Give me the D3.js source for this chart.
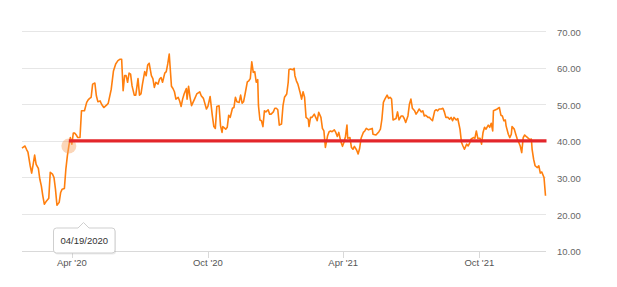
<!DOCTYPE html>
<html>
<head>
<meta charset="utf-8">
<script src="https://cdn.jsdelivr.net/npm/d3@7"></script>
<style>
  html, body { margin: 0; padding: 0; background: #fff; }
  svg { display: block; font-family: "Liberation Sans", Arial, sans-serif; }
</style>
</head>
<body>
<svg id="chart" width="617" height="287"></svg>
<script>
// ---- data ----
const dates = [
"2020-01-25","2020-01-29","2020-01-31","2020-02-02","2020-02-05","2020-02-07","2020-02-09","2020-02-11","2020-02-13","2020-02-16",
"2020-02-18","2020-02-20","2020-02-22","2020-02-24","2020-02-27","2020-03-01","2020-03-03","2020-03-06","2020-03-08","2020-03-10",
"2020-03-12","2020-03-15","2020-03-17","2020-03-19","2020-03-22","2020-03-24","2020-03-26","2020-03-28","2020-03-30","2020-04-01",
"2020-04-03","2020-04-05","2020-04-07","2020-04-09","2020-04-12","2020-04-14","2020-04-16","2020-04-18","2020-04-21","2020-04-23",
"2020-04-25","2020-04-27","2020-04-29","2020-05-02","2020-05-04","2020-05-06","2020-05-09","2020-05-11","2020-05-14","2020-05-18",
"2020-05-20","2020-05-24","2020-05-27","2020-05-30","2020-06-02","2020-06-05","2020-06-07","2020-06-09","2020-06-11","2020-06-13",
"2020-06-15","2020-06-17","2020-06-19","2020-06-21","2020-06-24","2020-06-26","2020-06-29","2020-07-01","2020-07-03","2020-07-05",
"2020-07-08","2020-07-10","2020-07-12","2020-07-14","2020-07-17","2020-07-19","2020-07-21","2020-07-23","2020-07-26","2020-07-28",
"2020-07-30","2020-08-01","2020-08-04","2020-08-06","2020-08-08","2020-08-10","2020-08-13","2020-08-15","2020-08-17","2020-08-19",
"2020-08-22","2020-08-24","2020-08-26","2020-08-28","2020-08-30","2020-09-02","2020-09-03","2020-09-05","2020-09-07","2020-09-09",
"2020-09-13","2020-09-16","2020-09-20","2020-09-22","2020-09-25","2020-09-29","2020-10-01","2020-10-04","2020-10-07","2020-10-09",
"2020-10-11","2020-10-13","2020-10-16","2020-10-18","2020-10-20","2020-10-21","2020-10-25","2020-10-27","2020-10-29","2020-10-31",
"2020-11-03","2020-11-05","2020-11-07","2020-11-09","2020-11-12","2020-11-14","2020-11-16","2020-11-18","2020-11-20","2020-11-23",
"2020-11-25","2020-11-27","2020-11-29","2020-12-01","2020-12-03","2020-12-05","2020-12-07","2020-12-08","2020-12-10","2020-12-12",
"2020-12-14","2020-12-16","2020-12-18","2020-12-21","2020-12-23","2020-12-25","2020-12-28","2020-12-30","2021-01-01","2021-01-03",
"2021-01-05","2021-01-08","2021-01-10","2021-01-12","2021-01-15","2021-01-17","2021-01-18","2021-01-20","2021-01-23","2021-01-25",
"2021-01-26","2021-01-28","2021-01-30","2021-02-02","2021-02-04","2021-02-06","2021-02-08","2021-02-10","2021-02-13","2021-02-14",
"2021-02-16","2021-02-18","2021-02-21","2021-02-23","2021-02-25","2021-02-27","2021-03-02","2021-03-04","2021-03-06","2021-03-08",
"2021-03-11","2021-03-13","2021-03-15","2021-03-17","2021-03-20","2021-03-22","2021-03-24","2021-03-26","2021-03-29","2021-03-31",
"2021-04-02","2021-04-04","2021-04-06","2021-04-07","2021-04-10","2021-04-12","2021-04-14","2021-04-16","2021-04-19","2021-04-21",
"2021-04-23","2021-04-25","2021-04-28","2021-04-30","2021-05-02","2021-05-05","2021-05-10","2021-05-11","2021-05-15","2021-05-19",
"2021-05-21","2021-05-23","2021-05-25","2021-05-27","2021-05-30","2021-06-01","2021-06-03","2021-06-05","2021-06-07","2021-06-09",
"2021-06-11","2021-06-13","2021-06-15","2021-06-18","2021-06-20","2021-06-22","2021-06-24","2021-06-27","2021-06-29","2021-07-01",
"2021-07-03","2021-07-06","2021-07-08","2021-07-10","2021-07-12","2021-07-15","2021-07-17","2021-07-19","2021-07-21","2021-07-24",
"2021-07-26","2021-07-28","2021-07-30","2021-08-02","2021-08-04","2021-08-06","2021-08-08","2021-08-11","2021-08-13","2021-08-15",
"2021-08-17","2021-08-20","2021-08-22","2021-08-24","2021-08-26","2021-08-28","2021-08-31","2021-09-02","2021-09-05","2021-09-07",
"2021-09-09","2021-09-11","2021-09-14","2021-09-16","2021-09-18","2021-09-20","2021-09-23","2021-09-25","2021-09-27","2021-09-29",
"2021-10-02","2021-10-04","2021-10-06","2021-10-08","2021-10-10","2021-10-13","2021-10-15","2021-10-17","2021-10-19","2021-10-20",
"2021-10-23","2021-10-25","2021-10-28","2021-10-30","2021-11-01","2021-11-03","2021-11-05","2021-11-06","2021-11-09","2021-11-11",
"2021-11-13","2021-11-14","2021-11-17","2021-11-19","2021-11-21","2021-11-23","2021-11-25","2021-11-27","2021-11-29","2021-12-01",
"2021-12-03","2021-12-06","2021-12-08","2021-12-10","2021-12-11","2021-12-13","2021-12-15","2021-12-18","2021-12-20","2021-12-22",
"2021-12-24","2021-12-27","2021-12-29"
];
const values = [
38.0,38.6,37.7,36.9,33.2,31.2,33.6,36.1,33.6,32.5,
29.5,27.7,25.0,22.7,23.6,24.3,31.4,30.9,30.0,26.8,
22.4,23.2,25.9,26.8,27.0,32.3,35.9,38.6,40.9,39.1,
42.1,42.1,41.6,40.9,40.9,48.2,48.2,48.2,50.5,51.2,
51.6,51.9,55.5,55.8,52.3,50.7,50.9,50.0,49.1,49.8,
50.3,54.1,59.1,61.0,61.9,62.3,62.3,53.7,57.8,57.8,
56.0,58.5,58.2,55.0,52.5,52.5,57.0,52.5,52.8,55.5,
58.9,57.8,60.7,61.2,57.8,57.0,54.6,56.0,55.5,56.9,
57.3,56.0,58.5,58.9,61.0,63.7,54.9,54.3,53.4,51.4,
51.9,50.9,49.4,51.4,52.8,54.3,51.4,54.9,51.9,49.6,
51.4,52.8,53.4,52.3,51.6,48.7,49.4,52.1,46.8,43.9,
43.4,49.4,49.6,44.1,42.3,43.9,43.2,43.7,47.0,46.4,
48.9,49.1,51.9,50.7,50.5,52.5,50.3,50.7,52.8,56.1,
56.4,57.0,61.6,58.7,58.9,56.0,56.7,49.6,45.7,45.5,
43.9,48.2,47.9,48.5,47.3,47.3,47.9,48.9,48.9,48.5,
44.3,44.6,49.6,51.9,52.8,56.0,59.4,59.6,59.4,59.8,
57.8,56.4,55.5,53.2,51.4,53.4,51.9,46.4,45.9,43.9,
46.4,46.4,47.3,46.4,45.5,47.8,46.4,43.4,42.7,38.2,
41.4,42.5,42.7,42.5,43.0,42.3,41.2,42.3,39.6,38.5,
39.6,41.2,44.3,40.7,40.9,38.2,37.7,38.5,37.5,36.4,
37.9,40.7,42.3,42.7,43.4,43.0,43.4,41.8,41.6,42.5,
43.2,45.9,50.5,51.4,52.5,51.6,51.9,51.4,45.7,45.9,
46.1,47.9,45.7,46.8,46.8,46.1,45.0,46.8,50.0,51.4,
48.9,48.2,47.3,47.9,48.7,47.9,48.2,46.8,47.0,46.4,
46.4,45.9,45.5,48.2,48.5,48.2,48.7,48.7,48.9,47.9,
46.4,46.4,45.9,46.4,45.5,46.4,45.7,46.1,43.2,39.6,
38.6,37.7,39.1,38.6,39.4,40.5,40.9,40.7,42.7,40.7,
40.7,39.1,42.3,43.7,43.2,44.3,43.7,44.8,42.7,48.2,
48.5,48.7,49.1,47.0,46.8,45.5,45.7,44.1,41.8,40.9,
41.8,43.9,43.2,41.8,40.5,39.6,38.6,36.8,40.9,41.6,
41.2,40.7,40.3,40.5,37.7,35.0,33.2,32.7,33.2,31.2,
31.5,30.0,25.0
];
const yTicks = [10, 20, 30, 40, 50, 60, 70];
const xTickDates = ["2020-04-01", "2020-10-01", "2021-04-01", "2021-10-01"];
const xTickLabels = ["Apr '20", "Oct '20", "Apr '21", "Oct '21"];
const refValue = 40;
const refStartDate = "2020-03-28";
const tooltipDate = "2020-04-19";
const tooltipLabel = "04/19/2020";

// ---- setup ----
const parse = d3.utcParse("%Y-%m-%d");
const data = dates.map((d, i) => ({ date: parse(d), value: values[i] }));

const svg = d3.select("#chart");
const plotLeft = 22, plotRight = 545.5, plotTop = 31, plotBottom = 250.7;

const x = d3.scaleUtc()
  .domain(d3.extent(data, d => d.date))
  .range([plotLeft, plotRight]);
const y = d3.scaleLinear().domain([10, 70]).range([plotBottom, plotTop]);

// gridlines
svg.append("g").selectAll("line").data(yTicks).join("line")
  .attr("x1", plotLeft).attr("x2", 546)
  .attr("y1", d => Math.round(y(d)) + 0.5).attr("y2", d => Math.round(y(d)) + 0.5)
  .attr("stroke", d => d === 10 ? "#d9d9d9" : "#e6e6e6")
  .attr("stroke-width", 1);

// y labels
svg.append("g").selectAll("text").data(yTicks).join("text")
  .attr("x", 557).attr("y", d => y(d) + 4.5)
  .attr("font-size", 9.5).attr("fill", "#666")
  .text(d => d3.format(".2f")(d));

// x axis ticks
const xt = xTickDates.map((d, i) => ({ date: parse(d), label: xTickLabels[i] }));
svg.append("g").selectAll("line").data(xt).join("line")
  .attr("x1", d => Math.round(x(d.date)) + 0.5).attr("x2", d => Math.round(x(d.date)) + 0.5)
  .attr("y1", Math.round(plotBottom)).attr("y2", Math.round(plotBottom) + 7)
  .attr("stroke", "#d9d9d9");
svg.append("g").selectAll("text").data(xt).join("text")
  .attr("x", d => x(d.date)).attr("y", 266)
  .attr("text-anchor", "middle")
  .attr("font-size", 9.5).attr("fill", "#555")
  .text(d => d.label);

// series line
const line = d3.line().x(d => x(d.date)).y(d => y(d.value)).curve(d3.curveLinear);
svg.append("path").datum(data)
  .attr("d", line)
  .attr("fill", "none")
  .attr("stroke", "#ff7f0e")
  .attr("stroke-width", 1.6)
  .attr("stroke-linejoin", "round");

// highlight marker
const refStart = data.find(d => +d.date === +parse(refStartDate));
svg.append("circle")
  .attr("cx", x(refStart.date)).attr("cy", y(refStart.value))
  .attr("r", 7.5)
  .attr("fill", "#f7a463").attr("fill-opacity", 0.45);

// reference line
svg.append("line")
  .attr("x1", x(refStart.date)).attr("x2", 546.5)
  .attr("y1", y(refValue)).attr("y2", y(refValue))
  .attr("stroke", "#e3262b").attr("stroke-width", 3.2);

// tooltip
const tipX = x(parse(tooltipDate)) - 1.7;
const tg = svg.append("g");
const bx = tipX - 30, by = 228, bw = 61.5, bh = 25;
tg.append("rect")
  .attr("x", bx + 1).attr("y", by + 1.5).attr("width", bw).attr("height", bh)
  .attr("rx", 3).attr("fill", "#000").attr("fill-opacity", 0.08);
tg.append("path")
  .attr("d", `M${bx + 3},${by} L${tipX - 5.5},${by} L${tipX},${by - 5.5} L${tipX + 5.5},${by} L${bx + bw - 3},${by} Q${bx + bw},${by} ${bx + bw},${by + 3} L${bx + bw},${by + bh - 3} Q${bx + bw},${by + bh} ${bx + bw - 3},${by + bh} L${bx + 3},${by + bh} Q${bx},${by + bh} ${bx},${by + bh - 3} L${bx},${by + 3} Q${bx},${by} ${bx + 3},${by} Z`)
  .attr("fill", "#fff").attr("stroke", "#cfcfcf").attr("stroke-width", 1);
tg.append("text")
  .attr("x", bx + bw / 2).attr("y", by + 16)
  .attr("text-anchor", "middle")
  .attr("font-size", 9.5).attr("fill", "#333")
  .text(tooltipLabel);
</script>
</body>
</html>
